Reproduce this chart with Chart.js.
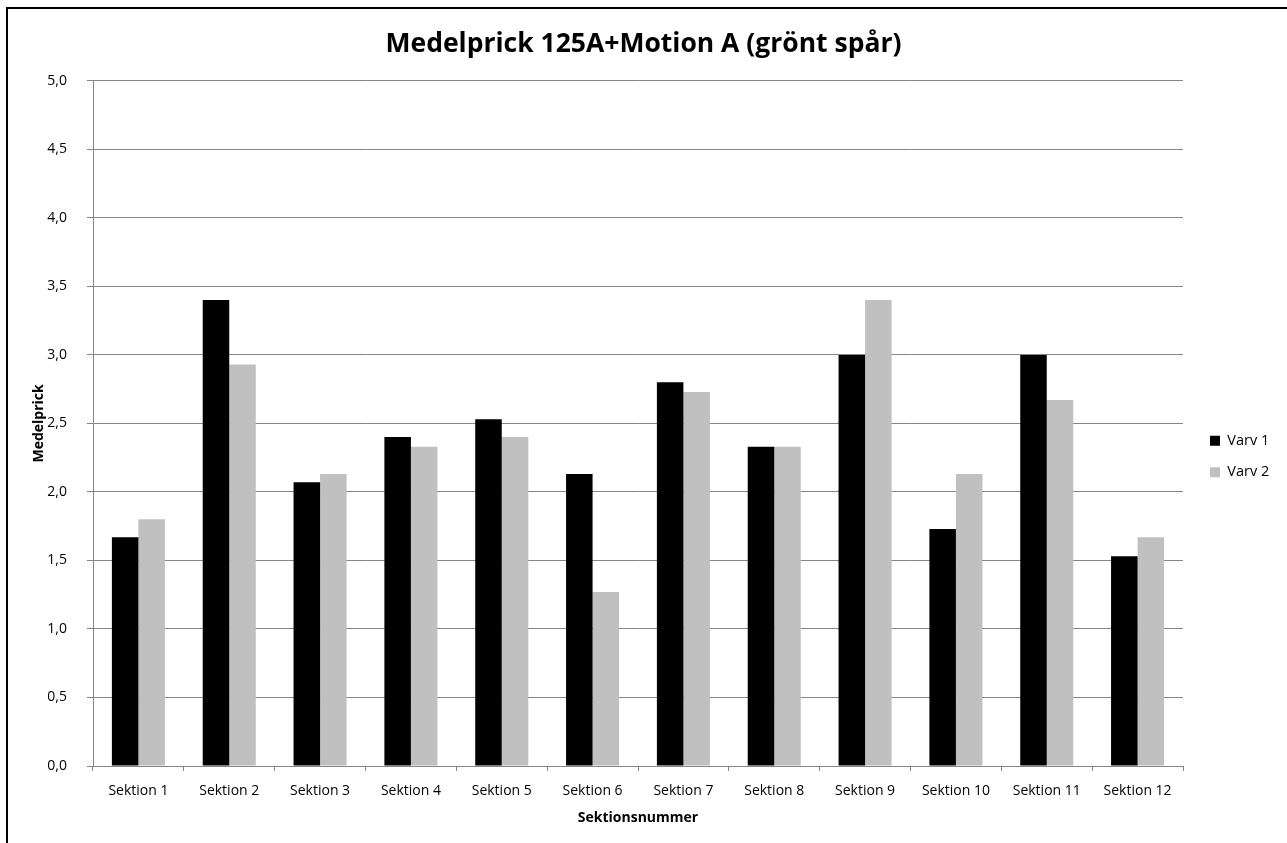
<!DOCTYPE html>
<html>
<head>
<meta charset="utf-8">
<script src="https://cdn.jsdelivr.net/npm/chart.js@4/dist/chart.umd.min.js"></script>
<style>
  html, body { margin: 0; padding: 0; background: #fff; }
  #wrap { position: relative; width: 1287px; height: 843px; }
  #frame { position: absolute; left: 6px; top: 7px; right: 0; bottom: 0; border-left: 2px solid #000; border-top: 2px solid #000; pointer-events: none; }
  canvas { position: absolute; left: 0; top: 0; }
</style>
</head>
<body>
<div id="wrap">
  <canvas id="c" width="1287" height="843"></canvas>
  <div id="frame"></div>
</div>
<script>
const chartTitle = 'Medelprick 125A+Motion A (grönt spår)';
const xTitle = 'Sektionsnummer';
const yTitle = 'Medelprick';
const categories = ['Sektion 1','Sektion 2','Sektion 3','Sektion 4','Sektion 5','Sektion 6','Sektion 7','Sektion 8','Sektion 9','Sektion 10','Sektion 11','Sektion 12'];
const seriesNames = ['Varv 1', 'Varv 2'];
const varv1 = [1.67, 3.40, 2.07, 2.40, 2.53, 2.13, 2.80, 2.33, 3.00, 1.73, 3.00, 1.53];
const varv2 = [1.80, 2.93, 2.13, 2.33, 2.40, 1.27, 2.73, 2.33, 3.40, 2.13, 2.67, 1.67];
const yMin = 0, yMax = 5, yStep = 0.5;

const FONT = '"Open Sans", "Noto Sans", sans-serif';
const GRID = '#868686';

const layoutTweak = {
  id: 'layoutTweak',
  beforeInit(chart) {
    const lg = chart.legend;
    if (lg) {
      const orig = lg.fit;
      lg.fit = function () { orig.call(this); if (!this.isHorizontal()) this.width = 104; };
    }
  },
  afterLayout(chart) {
    const lg = chart.legend;
    if (lg) {
      const dx = 10, dy = 33;
      lg.left += dx; lg.right += dx;
      lg.top += dy; lg.bottom += dy;
    }
  }
};

new Chart(document.getElementById('c'), {
  type: 'bar',
  data: {
    labels: categories,
    datasets: [
      { label: seriesNames[0], data: varv1, backgroundColor: '#000000', borderWidth: 0 },
      { label: seriesNames[1], data: varv2, backgroundColor: '#C0C0C0', borderWidth: 0 }
    ]
  },
  options: {
    responsive: false,
    animation: false,
    devicePixelRatio: 1,
    layout: { padding: { left: 0, right: 0, top: 0, bottom: 0 } },
    datasets: { bar: { categoryPercentage: 0.584, barPercentage: 1.0 } },
    plugins: {
      title: {
        display: true,
        text: chartTitle,
        color: '#000',
        font: { family: FONT, size: 26.5, weight: 'bold' },
        padding: { top: 29, bottom: 20 }
      },
      legend: {
        display: true,
        position: 'right',
        fullSize: false,
        align: 'center',
        labels: {
          boxWidth: 10, boxHeight: 10,
          padding: 17,
          color: '#000',
          font: { family: FONT, size: 14.5 }
        }
      },
      tooltip: { enabled: false }
    },
    scales: {
      x: {
        grid: { display: true, drawOnChartArea: false, drawTicks: true, tickLength: 5, color: GRID, offset: true },
        border: { display: true, color: GRID, width: 1 },
        ticks: { color: '#000', font: { family: FONT, size: 14 }, padding: 12, maxRotation: 0, autoSkip: false },
        title: { display: true, text: xTitle, color: '#000', font: { family: FONT, size: 14, weight: 'bold' }, padding: { top: 0, bottom: 17 } },
        afterFit(scale) { scale.height = 843 - 766; }
      },
      y: {
        min: yMin, max: yMax,
        grid: { display: true, drawOnChartArea: true, drawTicks: true, tickLength: 6, color: GRID },
        border: { display: true, color: GRID, width: 1 },
        ticks: {
          stepSize: yStep,
          color: '#000',
          font: { family: FONT, size: 14 },
          padding: 20,
          callback: (v) => Number(v).toFixed(1).replace('.', ',')
        },
        title: { display: true, text: yTitle, color: '#000', font: { family: FONT, size: 14, weight: 'bold' }, padding: { top: 31, bottom: 0 } },
        afterFit(scale) { scale.width = 93; }
      }
    }
  },
  plugins: [layoutTweak]
});
</script>
</body>
</html>
